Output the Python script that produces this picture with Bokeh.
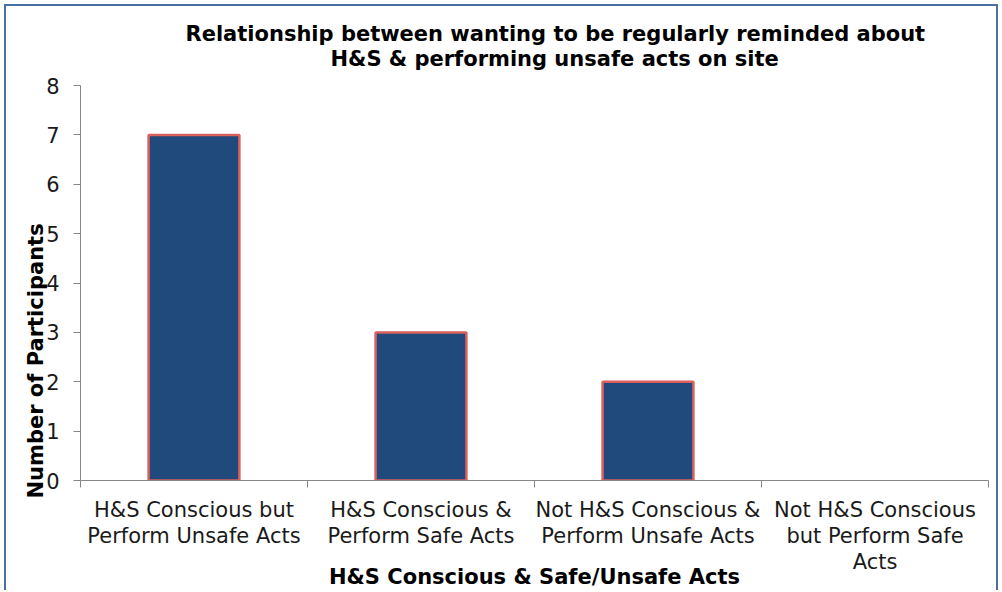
from bokeh.plotting import figure
from bokeh.models import Range1d, FixedTicker, LinearAxis, Title, ColumnDataSource
from bokeh.embed import file_html
from bokeh.resources import INLINE

# ---- data ----
categories = [
    "H&S Conscious but\nPerform Unsafe Acts",
    "H&S Conscious &\nPerform Safe Acts",
    "Not H&S Conscious &\nPerform Unsafe Acts",
    "Not H&S Conscious\nbut Perform Safe\nActs",
]
participants = [7, 3, 2, 0]
y_ticks = [0, 1, 2, 3, 4, 5, 6, 7, 8]
title_lines = ["Relationship between wanting to be regularly reminded about",
               "H&S & performing unsafe acts on site"]
x_title = "H&S Conscious & Safe/Unsafe Acts"
y_title = "Number of Participants"

FONT = "DejaVu Sans"
BAR = "#214A7C"
EDGE = "#D9605C"
AXIS = "#868686"

n = len(categories)
centers = [i + 0.5 for i in range(n)]
boundaries = list(range(n + 1))

src = ColumnDataSource(dict(
    x=centers,
    top=participants,
    la=[1.0 if v > 0 else 0.0 for v in participants],
))

p = figure(
    width=994, height=586,
    x_range=Range1d(0, n), y_range=Range1d(0, 8),
    output_backend="svg", toolbar_location=None,
    x_axis_type=None, y_axis_type=None,
    min_border_left=74, min_border_right=12, min_border_top=79, min_border_bottom=104,
    margin=(4, 0, 0, 4),
    styles={"border-top": "2px solid #4A6FA5", "border-left": "2px solid #4A6FA5",
            "border-right": "2px solid #4A6FA5"},
)
p.outline_line_color = None
p.xgrid.visible = False
p.ygrid.visible = False

p.vbar(x="x", top="top", width=0.4, bottom=0, source=src,
       fill_color=BAR, line_color=EDGE, line_width=2.5, line_alpha="la")

# y axis
yax = LinearAxis(ticker=FixedTicker(ticks=y_ticks))
yax.axis_line_color = AXIS
yax.major_tick_line_color = AXIS
yax.major_tick_in = 0
yax.major_tick_out = 7
yax.minor_tick_line_color = None
yax.major_label_text_font = FONT
yax.major_label_text_font_size = "21px"
yax.major_label_text_color = "#1a1a1a"
yax.major_label_standoff = 14
p.add_layout(yax, "left")

# x axis tick marks at category boundaries
xax = LinearAxis(ticker=FixedTicker(ticks=boundaries))
xax.axis_line_color = AXIS
xax.major_tick_line_color = AXIS
xax.major_tick_in = 0
xax.major_tick_out = 7
xax.minor_tick_line_color = None
xax.major_label_overrides = {b: "" for b in boundaries}
xax.major_label_text_font_size = "0px"
xax.major_label_standoff = 0
p.add_layout(xax, "below")

# x axis category labels at centers
xlab = LinearAxis(ticker=FixedTicker(ticks=centers))
xlab.axis_line_color = None
xlab.major_tick_line_color = None
xlab.minor_tick_line_color = None
xlab.major_label_overrides = {c: t for c, t in zip(centers, categories)}
xlab.major_label_text_font = FONT
xlab.major_label_text_font_size = "21px"
xlab.major_label_text_color = "#1a1a1a"
xlab.major_label_text_line_height = 1.1
xlab.major_label_standoff = 4
xlab.axis_label = x_title
xlab.axis_label_text_font = FONT
xlab.axis_label_text_font_style = "bold"
xlab.axis_label_text_font_size = "21px"
xlab.axis_label_text_color = "#000000"
xlab.axis_label_standoff = -12
p.add_layout(xlab, "below")

# y axis title
yt = Title(text=y_title, align="left", offset=-18, standoff=-8, text_font=FONT,
           text_font_size="21px", text_font_style="bold", text_color="#000000")
p.add_layout(yt, "left")

# main title (two lines; nearest line added first)
title_offsets = [105, 250]
title_standoffs = [-33, 30]
for i in (1, 0):
    t = Title(text=title_lines[i], align="left", offset=title_offsets[i], text_font=FONT,
              text_font_size="21px", text_font_style="bold", text_color="#000000",
              standoff=title_standoffs[i])
    p.add_layout(t, "above")

open("out.html", "w").write(file_html(p, INLINE))
